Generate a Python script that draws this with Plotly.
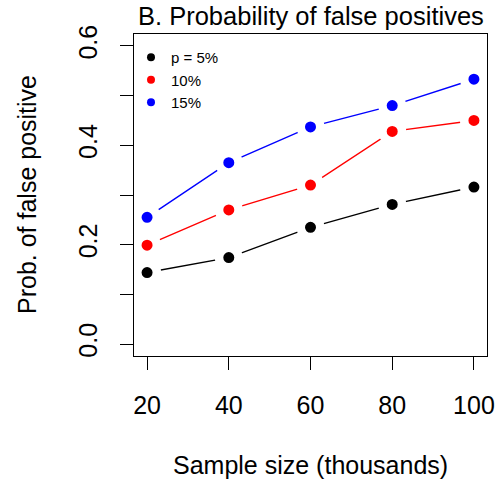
import plotly.graph_objects as go

sample_size = [20, 40, 60, 80, 100]
p5 = [0.144, 0.174, 0.235, 0.281, 0.316]
p10 = [0.199, 0.270, 0.320, 0.428, 0.450]
p15 = [0.255, 0.365, 0.437, 0.480, 0.533]
series_names = ["p = 5%", "10%", "15%"]
series_colors = ["black", "red", "blue"]
y_ticks = [0.0, 0.1, 0.2, 0.3, 0.4, 0.5, 0.6]
y_ticktext = ["0.0", "", "0.2", "", "0.4", "", "0.6"]
x_ticks = [20, 40, 60, 80, 100]

FONT = "Liberation Sans, Arial, sans-serif"
series = [p5, p10, p15]

fig = go.Figure()
# lines with gaps around points (R type="b"): white stroke around each dot
for vals, col in zip(series, series_colors):
    fig.add_trace(go.Scatter(x=sample_size, y=vals, mode="lines+markers",
                             line=dict(color=col, width=1.4),
                             marker=dict(color=col, size=19.5,
                                         line=dict(color="white", width=8.5)),
                             showlegend=False))
# legend entries
for name, col in zip(series_names, series_colors):
    fig.add_trace(go.Scatter(x=[None], y=[None], mode="markers", name=name,
                             marker=dict(color=col, size=8)))

fig.update_layout(
    width=497, height=480,
    margin=dict(l=134, r=10, t=34, b=124, autoexpand=False),
    paper_bgcolor="white", plot_bgcolor="white",
    font=dict(family=FONT, color="black", size=25),
    showlegend=True,
    legend=dict(x=-0.0085, y=0.978, xanchor="left", yanchor="top",
                bgcolor="rgba(0,0,0,0)", font=dict(size=15, family=FONT),
                itemwidth=30, tracegroupgap=0),
    xaxis=dict(range=[16.8, 103.2], tickvals=x_ticks, ticks="outside",
               ticklen=13, tickwidth=1, tickcolor="black",
               showline=True, mirror=True, linecolor="black", linewidth=1,
               showgrid=False, zeroline=False, ticklabelstandoff=14,
               automargin=False, tickfont=dict(size=25)),
    yaxis=dict(range=[-0.024, 0.624], tickvals=y_ticks, ticktext=y_ticktext,
               ticks="outside", ticklen=13, tickwidth=1, tickcolor="black",
               showline=True, mirror=True, linecolor="black", linewidth=1,
               showgrid=False, zeroline=False, tickangle=-90,
               ticklabelstandoff=13, automargin=False,
               tickfont=dict(size=25)),
    annotations=[
        dict(text="B. Probability of false positives", xref="paper", yref="paper",
             x=0.5, y=1.0, yshift=2, xanchor="center", yanchor="bottom",
             showarrow=False, font=dict(size=25.5)),
        dict(text="Sample size (thousands)", xref="paper", yref="paper",
             x=0.5, y=0, yshift=-109, xanchor="center", yanchor="middle",
             showarrow=False, font=dict(size=25)),
        dict(text="Prob. of false positive", xref="paper", yref="paper",
             x=0, y=0.5, xshift=-107, xanchor="center", yanchor="middle",
             textangle=-90, showarrow=False, font=dict(size=25)),
    ],
)

fig.write_html("out.html", config={"displayModeBar": False},
               post_script="document.body.style.margin='0';document.body.style.overflow='hidden';")
